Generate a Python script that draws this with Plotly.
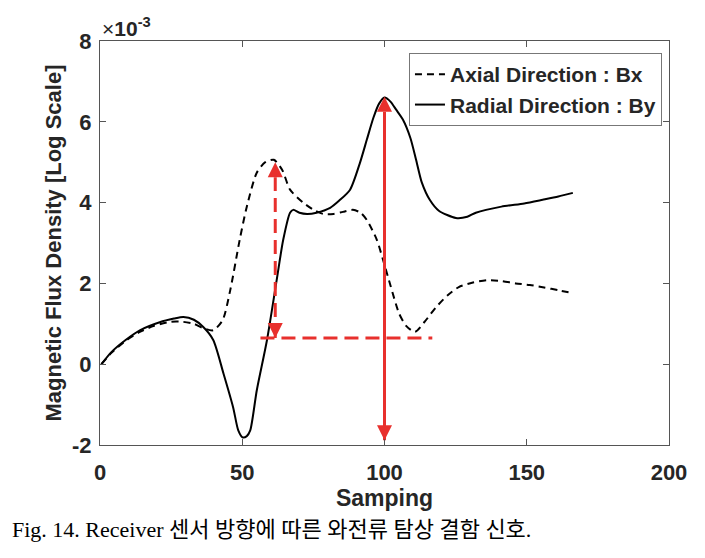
import plotly.graph_objects as go

# Axial direction (Bx), dashed
bx_x = [0.5, 4, 9, 14, 19, 25, 29, 33, 36, 39.8, 43.1, 45.8, 49.1, 51.6, 55.1, 58.1, 61.1, 64.1, 66.8, 71.4, 75.1, 78.4, 82.1, 85.4, 88.9, 91.6, 93.8, 97.3, 99.5, 102.1, 105.1, 107.6, 110.7, 114.1, 118.1, 122.1, 126.1, 131.1, 136.1, 141.1, 146.1, 151.1, 156.1, 161.1, 166.2]
bx_y = [0, 0.28, 0.58, 0.8, 0.95, 1.05, 1.05, 1.0, 0.9, 0.84, 1.09, 1.84, 3.08, 3.9, 4.74, 5.0, 5.06, 4.8, 4.32, 4.0, 3.82, 3.72, 3.72, 3.77, 3.82, 3.75, 3.57, 3.08, 2.58, 1.95, 1.26, 0.95, 0.8, 1.05, 1.41, 1.7, 1.91, 2.02, 2.08, 2.06, 2.0, 1.96, 1.9, 1.83, 1.76]

# Radial direction (By), solid
by_x = [0.5, 4, 9, 14, 21, 26, 29.3, 33, 36.3, 39.8, 43.4, 46.8, 48.6, 50.1, 51.6, 52.8, 55.1, 58.7, 62.1, 64.4, 66.8, 67.9, 70.1, 72.8, 76.1, 80.9, 84.1, 87.9, 91.4, 93.8, 96.1, 98.1, 100, 102.1, 104.1, 106.5, 109.1, 111.1, 113.1, 115.9, 119.1, 125.1, 129.1, 132.1, 141.1, 149.1, 155.6, 161.1, 166.2]
by_y = [0, 0.3, 0.6, 0.84, 1.04, 1.13, 1.17, 1.1, 0.92, 0.6, -0.23, -1.07, -1.64, -1.81, -1.78, -1.64, -0.65, 0.6, 2.08, 3.08, 3.75, 3.82, 3.75, 3.72, 3.75, 3.87, 4.05, 4.32, 4.99, 5.56, 6.1, 6.45, 6.6, 6.5, 6.3, 6.05, 5.6, 5.06, 4.5, 4.07, 3.8, 3.62, 3.65, 3.75, 3.9, 3.98, 4.07, 4.15, 4.24]

# Red annotation marks
arrow1_x = [61.6, 61.6]      # dashed double arrow
arrow1_y = [0.65, 5.0]
hline_x = [56.4, 116.8]      # dashed horizontal reference
hline_y = [0.65, 0.65]
arrow2_x = [100, 100]        # solid double arrow
arrow2_y = [-1.88, 6.62]

x_ticks = [0, 50, 100, 150, 200]
y_ticks = [-2, 0, 2, 4, 6, 8]

RED = "#e8302d"
INK = "#262626"
FONT = "Liberation Sans, Arial, sans-serif"

fig = go.Figure()
fig.add_trace(go.Scatter(x=bx_x, y=bx_y, mode="lines", name="Axial Direction : Bx",
                         line=dict(color="black", width=2, dash="7px,5px", shape="spline", smoothing=0.7)))
fig.add_trace(go.Scatter(x=by_x, y=by_y, mode="lines", name="Radial Direction : By",
                         line=dict(color="black", width=2, shape="spline", smoothing=0.7)))

fig.add_trace(go.Scatter(x=hline_x, y=hline_y, mode="lines", showlegend=False,
                         line=dict(color=RED, width=3, dash="14px,7px")))
fig.add_trace(go.Scatter(x=arrow1_x, y=arrow1_y, mode="lines+markers", showlegend=False,
                         line=dict(color=RED, width=3, dash="14px,7px"),
                         marker=dict(symbol=["arrow-down", "arrow-up"], size=15, color=RED,
                                     line=dict(width=0))))
fig.add_trace(go.Scatter(x=arrow2_x, y=arrow2_y, mode="lines+markers", showlegend=False,
                         line=dict(color=RED, width=3),
                         marker=dict(symbol=["arrow-down", "arrow-up"], size=15, color=RED,
                                     line=dict(width=0))))

axis_common = dict(showline=True, linecolor="#555555", linewidth=1, mirror="ticks",
                   ticks="inside", ticklen=6, tickcolor="#555555", showgrid=False, zeroline=False,
                   automargin=False,
                   tickfont=dict(family=FONT, size=22, color=INK, weight="bold"))

fig.update_xaxes(range=[0, 200], tickvals=x_ticks, ticktext=[str(v) for v in x_ticks],
                 ticklabelstandoff=8,
                 title=dict(text="<b>Samping</b>", font=dict(family=FONT, size=23, color=INK), standoff=2),
                 **axis_common)
fig.update_yaxes(range=[-2, 8], tickvals=y_ticks, ticktext=[str(v) for v in y_ticks],
                 ticklabelstandoff=3,
                 title=dict(text="<b>Magnetic Flux Density [Log Scale]</b>", font=dict(family=FONT, size=22, color=INK), standoff=4),
                 **axis_common)

fig.add_annotation(xref="paper", yref="paper", x=0.0, y=1.0, xanchor="left", yanchor="bottom",
                   text="×<b>10<sup>-3</sup></b>", showarrow=False,
                   font=dict(family=FONT, size=21, color=INK), yshift=-1)

fig.add_annotation(xref="paper", yref="paper", x=-0.158, y=-0.21, xanchor="left", yanchor="middle",
                   text="Fig. 14. Receiver 센서 방향에 따른 와전류 탐상 결함 신호.", showarrow=False,
                   font=dict(family="Liberation Serif, Noto Sans CJK KR, serif", size=22, color="black"))

fig.update_layout(
    width=705, height=558,
    margin=dict(l=91.5, r=44, t=33, b=121),
    paper_bgcolor="white", plot_bgcolor="white",
    legend=dict(x=0.543, y=0.97, xanchor="left", yanchor="top",
                bgcolor="white", bordercolor="#777777", borderwidth=1,
                font=dict(family=FONT, size=21, color=INK, weight="bold"),
                itemwidth=30, tracegroupgap=0),
)

fig.write_html("out.html")
